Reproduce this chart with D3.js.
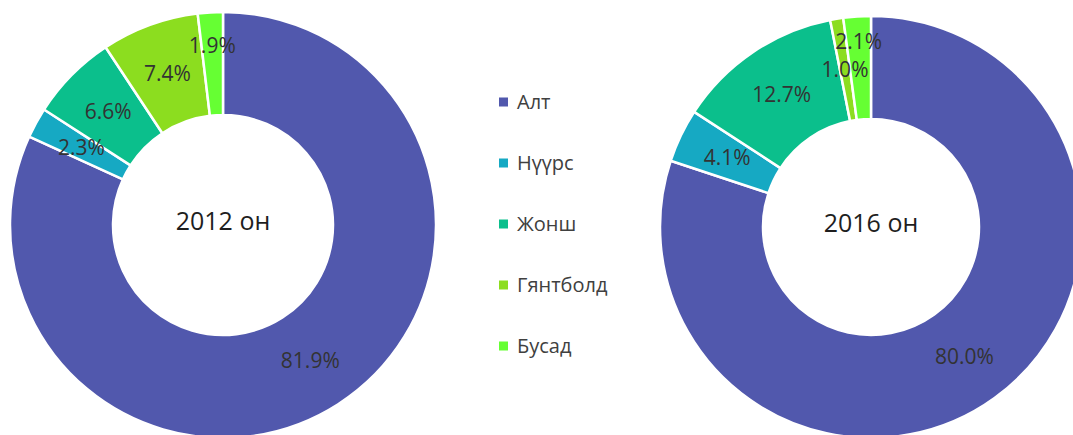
<!DOCTYPE html>
<html>
<head>
<meta charset="utf-8">
<script src="https://cdn.jsdelivr.net/npm/d3@7"></script>
<style>
  body { margin: 0; background: #fff; }
  text { font-family: "Open Sans", sans-serif; }
</style>
</head>
<body>
<div id="svgDiv"></div>
<script>
var width = 1073,
    height = 435;

// categories and colours
var categories = ["Алт", "Нүүрс", "Жонш", "Гянтболд", "Бусад"];
var colors = ["#5158ad", "#16a9c3", "#0bbf8c", "#8cdd1f", "#66ff33"];

// shares in percent
var years = ["2012 он", "2016 он"];
var values2012 = [81.9, 2.3, 6.6, 7.4, 1.9];
var values2016 = [80.0, 4.1, 12.7, 1.0, 2.1];

var color_scale = d3.scaleOrdinal()
  .domain(categories)
  .range(colors);

var svg = d3.select("#svgDiv").append("svg")
  .attr("width", width)
  .attr("height", height);

var pie = d3.pie()
  .sort(null)
  .value(function(d) { return d.value; });

// draw one doughnut
function drawDonut(title, values, cx, cy, R, r) {
  var data = categories.map(function(c, i) { return {cat: c, value: values[i]}; });
  var arcs = pie(data);

  var arc = d3.arc().innerRadius(r).outerRadius(R);

  var g = svg.append("g")
    .attr("transform", "translate(" + cx + "," + cy + ")");

  g.selectAll("path")
    .data(arcs).enter()
    .append("path")
    .attr("d", arc)
    .attr("fill", function(d) { return color_scale(d.data.cat); })
    .attr("stroke", "#fff")
    .attr("stroke-width", 2.5)
    .attr("stroke-linejoin", "round");

  // labels, pushed outward if they collide with one already placed
  var placed = [];
  var fs = 21;
  arcs.forEach(function(d) {
    var txt = d.data.value.toFixed(1) + "%";
    var w = txt.length * fs * 0.5;
    var h = fs;
    var a = (d.startAngle + d.endAngle) / 2;
    var rad = (R + r) / 2;
    var x, y;
    function hit() {
      return placed.some(function(p) {
        return Math.abs(p.x - x) < (p.w + w) / 2 + 8 && Math.abs(p.y - y) < (p.h + h) / 2 + 6;
      });
    }
    do {
      x = rad * Math.sin(a);
      y = -rad * Math.cos(a);
      rad += 2;
    } while (hit() && rad < R + 40);
    placed.push({x: x, y: y, w: w, h: h});

    g.append("text")
      .attr("x", x)
      .attr("y", y)
      .attr("dy", "0.35em")
      .attr("text-anchor", "middle")
      .attr("font-size", fs + "px")
      .attr("fill", "#333")
      .text(txt);
  });

  g.append("text")
    .attr("x", 0)
    .attr("y", -4)
    .attr("dy", "0.35em")
    .attr("text-anchor", "middle")
    .attr("font-size", "25px")
    .attr("fill", "#1e1e1e")
    .text(title);
}

drawDonut(years[0], values2012, 223, 225, 213, 110);
drawDonut(years[1], values2016, 871, 227, 211, 108);

// legend
var legendY = d3.scalePoint()
  .domain(categories)
  .range([102, 346]);

var legend = svg.append("g");

legend.selectAll("rect")
  .data(categories).enter()
  .append("rect")
  .attr("x", 499)
  .attr("y", function(d) { return legendY(d) - 4.5; })
  .attr("width", 9)
  .attr("height", 9)
  .attr("fill", function(d) { return color_scale(d); });

legend.selectAll("text")
  .data(categories).enter()
  .append("text")
  .attr("x", 517)
  .attr("y", function(d) { return legendY(d); })
  .attr("dy", "0.35em")
  .attr("font-size", "20px")
  .attr("fill", "#404040")
  .text(function(d) { return d; });
</script>
</body>
</html>
